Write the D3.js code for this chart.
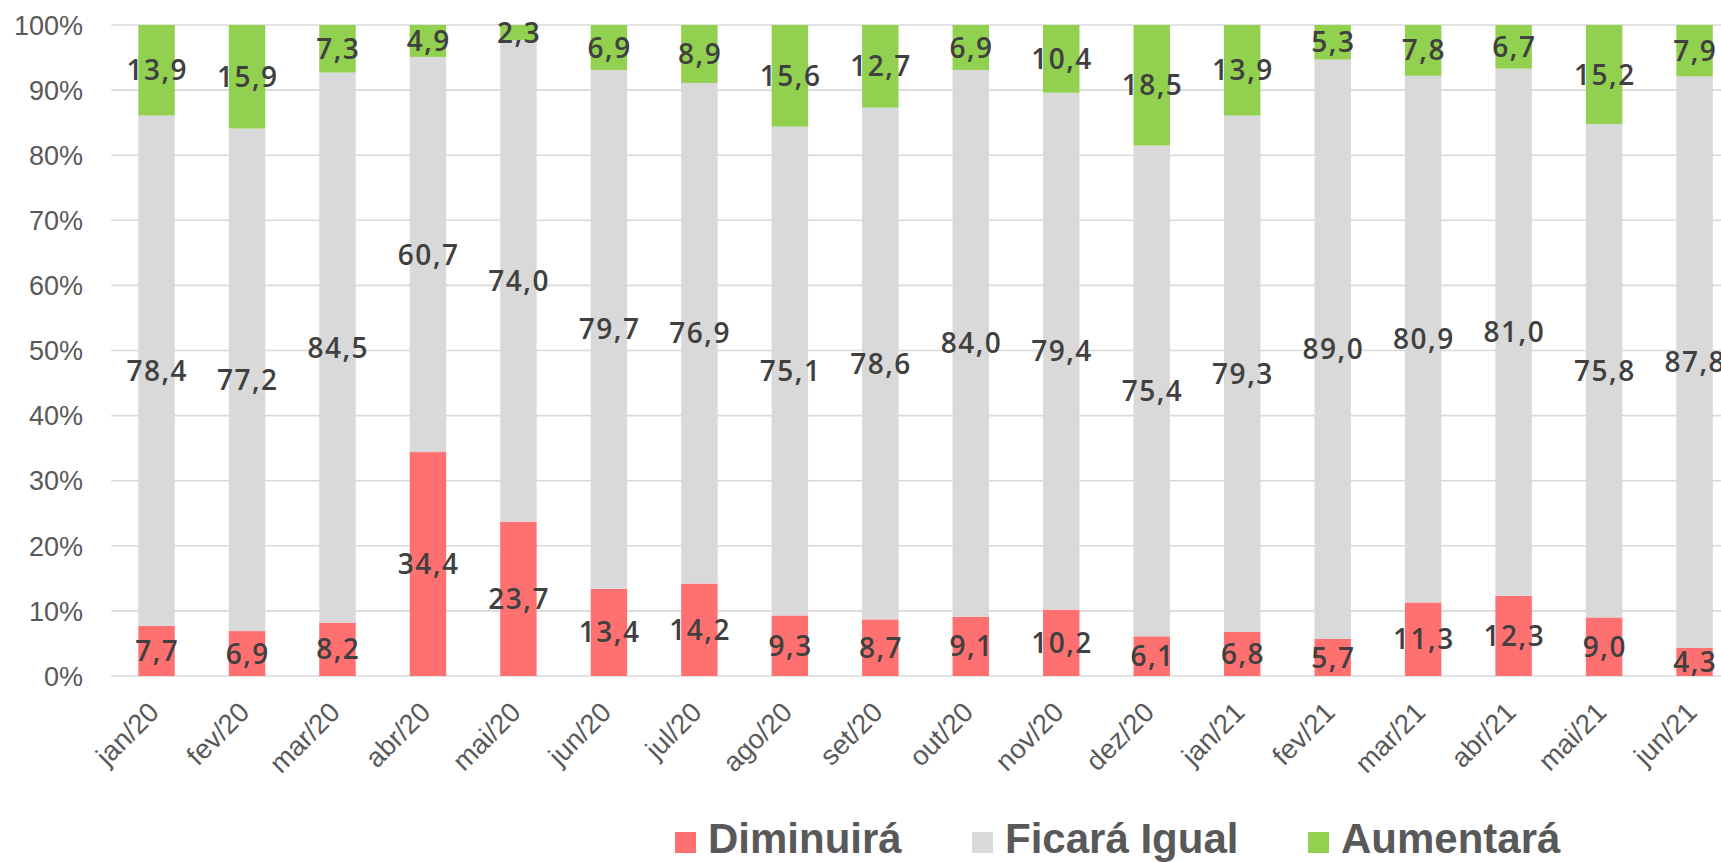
<!DOCTYPE html>
<html>
<head>
<meta charset="utf-8">
<script src="https://cdn.jsdelivr.net/npm/d3@7"></script>
<style>
  html, body { margin: 0; padding: 0; background: #fff; overflow: hidden; }
  svg { display: block; }
</style>
</head>
<body>
<svg id="chart" width="1721" height="862"></svg>
<script>
const categories = ["jan/20", "fev/20", "mar/20", "abr/20", "mai/20", "jun/20", "jul/20", "ago/20", "set/20", "out/20", "nov/20", "dez/20", "jan/21", "fev/21", "mar/21", "abr/21", "mai/21", "jun/21"];
const diminuira = [7.7, 6.9, 8.2, 34.4, 23.7, 13.4, 14.2, 9.3, 8.7, 9.1, 10.2, 6.1, 6.8, 5.7, 11.3, 12.3, 9.0, 4.3];
const ficaraIgual = [78.4, 77.2, 84.5, 60.7, 74.0, 79.7, 76.9, 75.1, 78.6, 84.0, 79.4, 75.4, 79.3, 89.0, 80.9, 81.0, 75.8, 87.8];
const aumentara = [13.9, 15.9, 7.3, 4.9, 2.3, 6.9, 8.9, 15.6, 12.7, 6.9, 10.4, 18.5, 13.9, 5.3, 7.8, 6.7, 15.2, 7.9];
const yTicks = [0, 10, 20, 30, 40, 50, 60, 70, 80, 90, 100];
const seriesNames = ["Diminuirá", "Ficará Igual", "Aumentará"];
const seriesColors = ["#ff7171", "#d9d9d9", "#92d050"];

const svg = d3.select("#chart");

const x = d3.scaleBand()
  .domain(categories)
  .range([111.3, 1739.8])
  .paddingInner(0.597)
  .paddingOuter(0.2985);

const y = d3.scaleLinear().domain([0, 100]).range([676, 25]);

// gridlines
svg.append("g").selectAll("line")
  .data(yTicks)
  .join("line")
  .attr("x1", 111.3).attr("x2", 1721)
  .attr("y1", d => y(d)).attr("y2", d => y(d))
  .attr("stroke", "#d9d9d9")
  .attr("stroke-width", 1.6);

// y axis labels
svg.append("g").selectAll("text")
  .data(yTicks)
  .join("text")
  .attr("x", 83)
  .attr("y", d => y(d))
  .attr("dy", "0.36em")
  .attr("text-anchor", "end")
  .attr("font-family", "'Liberation Sans', Arial, sans-serif")
  .attr("font-size", 27)
  .attr("fill", "#595959")
  .text(d => d + "%");

// stack data
const rows = categories.map((c, i) => ({
  cat: c,
  "Diminuirá": diminuira[i],
  "Ficará Igual": ficaraIgual[i],
  "Aumentará": aumentara[i]
}));
const stack = d3.stack().keys(seriesNames);
const stacked = stack(rows);

const fmt = v => d3.format(".1f")(v).replace(".", ",");

stacked.forEach((layer, li) => {
  const g = svg.append("g");
  g.selectAll("rect")
    .data(layer)
    .join("rect")
    .attr("x", d => x(d.data.cat))
    .attr("width", x.bandwidth())
    .attr("y", d => y(d[1]))
    .attr("height", d => y(d[0]) - y(d[1]))
    .attr("fill", seriesColors[li]);
});

stacked.forEach((layer, li) => {
  svg.append("g").selectAll("text")
    .data(layer)
    .join("text")
    .attr("x", d => x(d.data.cat) + x.bandwidth() / 2 + 0.75)
    .attr("y", d => y((d[0] + d[1]) / 2))
    .attr("dy", "0.36em")
    .attr("text-anchor", "middle")
    .attr("font-family", "'Open Sans', sans-serif")
    .attr("font-weight", 600)
    .attr("font-size", 28)
    .attr("letter-spacing", 1.5)
    .attr("fill", "#404040")
    .text(d => fmt(d.data[layer.key]));
});

// x axis labels
svg.append("g").selectAll("text")
  .data(categories)
  .join("text")
  .attr("transform", d => `translate(${x(d) + x.bandwidth() / 2 + 4},714) rotate(-45)`)
  .attr("text-anchor", "end")
  .attr("font-family", "'Liberation Sans', Arial, sans-serif")
  .attr("font-size", 27.5)
  .attr("fill", "#595959")
  .text(d => d);

// legend
const legendX = [675, 972, 1308];
const legend = svg.append("g");
seriesNames.forEach((name, i) => {
  legend.append("rect")
    .attr("x", legendX[i]).attr("y", 832)
    .attr("width", 21).attr("height", 21)
    .attr("fill", seriesColors[i]);
  legend.append("text")
    .attr("x", legendX[i] + 33)
    .attr("y", 853)
    .attr("font-family", "'Liberation Sans', Arial, sans-serif")
    .attr("font-weight", "bold")
    .attr("font-size", 42)
    .attr("fill", "#595959")
    .text(name);
});
</script>
</body>
</html>
